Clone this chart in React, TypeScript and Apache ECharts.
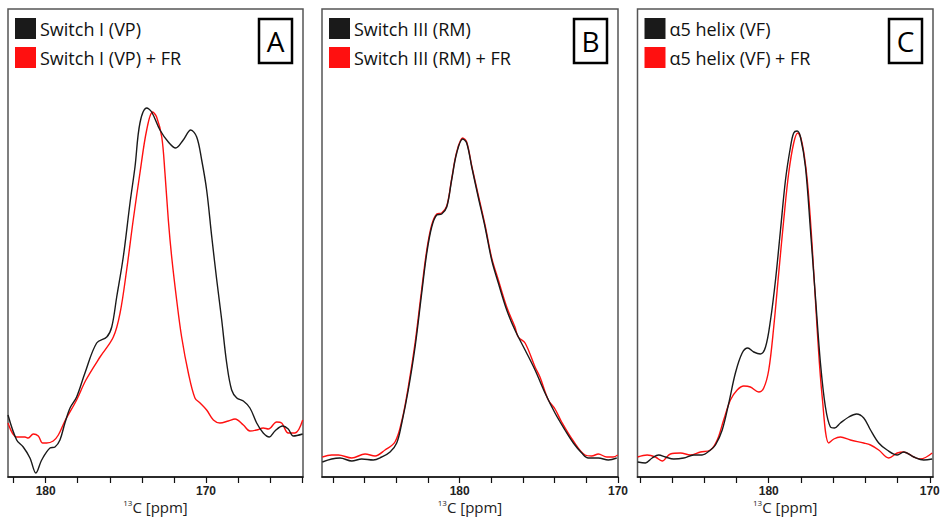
import React, { useEffect, useRef } from "react";
import * as echarts from "echarts";

// ---------- DATA (ppm, intensity in arbitrary units) ----------
const PANEL_LETTERS = ["A", "B", "C"];
const LEGEND_NAMES = [
  ["Switch I (VP)", "Switch I (VP) + FR"],
  ["Switch III (RM)", "Switch III (RM) + FR"],
  ["\u03b15 helix (VF)", "\u03b15 helix (VF) + FR"],
];
const AXIS_TITLE = "{sup|13}{n|C [ppm]}";
const AXIS_MIN = [163.95, 170, 169.8];
const AXIS_MAX = [182.35, 188.7, 188.15];
const TICKS_A = [164, 166, 168, 170, 172, 174, 176, 178, 180, 182];
const TICKS_BC = [170, 172, 174, 176, 178, 180, 182, 184, 186, 188];
const TICK_LABELS = [170, 180];

// Panel A
const A_BLACK_PPM = [182.35, 181.81, 181.4, 180.98, 180.61, 180.25, 179.73, 179.42, 179.11, 178.8, 178.48, 178.07, 177.55, 176.82, 176.19, 175.88, 175.57, 175.16, 174.74, 174.43, 174.12, 173.7, 173.39, 172.87, 172.35, 171.89, 171.42, 170.95, 170.58, 170.27, 169.96, 169.64, 169.33, 169.02, 168.71, 168.4, 168.08, 167.67, 167.26, 166.84, 166.43, 166.05, 165.7, 165.22, 164.87, 164.55, 163.97];
const A_BLACK_INT = [62, 37, 30, 19, 4, 17, 29, 30, 37, 54, 69, 80, 104, 134, 140, 150, 180, 220, 274, 310, 354, 369, 365, 347, 335, 329, 337, 347, 340, 317, 287, 240, 197, 157, 114, 87, 79, 76, 69, 54, 44, 40, 46, 51, 48, 41, 43];
const A_RED_PPM = [182.35, 181.81, 181.29, 181.09, 180.77, 180.46, 180.19, 179.94, 179.53, 179.21, 178.8, 178.07, 177.49, 176.61, 175.78, 175.36, 174.95, 174.54, 174.12, 173.7, 173.33, 173.08, 172.76, 172.56, 172.35, 172.14, 171.83, 171.52, 171.1, 170.69, 170.37, 169.96, 169.54, 169.13, 168.61, 168.19, 167.67, 167.26, 166.84, 166.43, 166.11, 165.59, 165.28, 164.87, 164.45, 163.97];
const A_RED_INT = [54, 40, 40, 39, 43, 41, 34, 34, 36, 42, 56, 77, 97, 120, 140, 164, 207, 257, 304, 347, 365, 360, 340, 304, 257, 220, 177, 140, 104, 79, 74, 67, 57, 54, 56, 58, 52, 46, 47, 49, 48, 55, 54, 44, 44, 57];

// Panel B
const B_BLACK_PPM = [188.68, 188.09, 187.56, 186.82, 186.19, 185.46, 184.93, 184.4, 183.98, 183.66, 183.25, 182.82, 182.4, 182.08, 181.77, 181.45, 181.14, 180.82, 180.51, 180.19, 179.81, 179.56, 179.24, 178.83, 178.4, 177.98, 177.56, 177.03, 176.51, 175.87, 175.24, 174.61, 173.98, 173.35, 172.82, 172.29, 171.88, 171.24, 170.61, 170.08];
const B_BLACK_INT = [15, 18, 19, 16, 18, 17, 20, 25, 34, 54, 87, 130, 184, 224, 250, 262, 263, 270, 297, 324, 338, 334, 310, 280, 250, 217, 194, 167, 147, 127, 107, 84, 64, 47, 34, 24, 19, 19, 17, 19];
const B_RED_PPM = [188.68, 188.09, 187.67, 186.82, 185.98, 185.35, 184.72, 184.09, 183.66, 183.25, 182.82, 182.4, 182.08, 181.77, 181.45, 181.14, 180.82, 180.51, 180.19, 179.81, 179.56, 179.24, 178.83, 178.4, 177.98, 177.56, 177.03, 176.51, 176.3, 175.87, 175.24, 174.93, 174.4, 173.98, 173.56, 172.82, 172.08, 171.66, 171.24, 170.71, 170.3, 170.02];
const B_RED_INT = [20, 22, 22, 19, 23, 21, 27, 35, 56, 90, 134, 188, 227, 252, 263, 264, 271, 298, 325, 339, 335, 311, 282, 252, 219, 197, 170, 150, 140, 134, 110, 100, 77, 68, 55, 36, 22, 21, 23, 20, 20, 22];

// Panel C
const C_BLACK_PPM = [188.14, 187.66, 187.24, 186.83, 186.42, 185.9, 185.28, 184.66, 184.14, 183.62, 183.31, 182.89, 182.48, 182.07, 181.65, 181.3, 180.93, 180.52, 180.2, 179.89, 179.58, 179.27, 178.96, 178.65, 178.45, 178.24, 178.03, 177.72, 177.41, 177.1, 176.79, 176.48, 176.17, 175.92, 175.55, 175.03, 174.55, 174.1, 173.68, 173.17, 172.65, 172.02, 171.61, 170.99, 170.37, 169.85];
const C_BLACK_INT = [15, 14, 19, 22, 20, 18, 19, 22, 22, 27, 32, 47, 74, 104, 124, 129, 125, 123, 130, 157, 197, 247, 297, 330, 344, 346, 340, 310, 247, 180, 114, 70, 50, 49, 54, 60, 63, 59, 47, 34, 27, 22, 25, 20, 17, 18];
const C_RED_PPM = [188.14, 187.55, 187.04, 186.62, 186.11, 185.48, 184.86, 184.24, 183.62, 183.2, 182.8, 182.38, 181.96, 181.55, 181.14, 180.62, 180.31, 180.0, 179.69, 179.38, 179.07, 178.76, 178.45, 178.2, 177.93, 177.61, 177.3, 176.99, 176.68, 176.27, 175.96, 175.55, 174.93, 174.1, 173.68, 173.17, 172.55, 172.02, 171.61, 170.99, 170.58, 169.85];
const C_RED_INT = [20, 22, 20, 16, 23, 24, 22, 25, 27, 37, 57, 77, 87, 91, 90, 85, 89, 107, 150, 204, 257, 304, 334, 344, 334, 297, 230, 147, 80, 34, 38, 40, 37, 34, 32, 27, 19, 24, 25, 20, 18, 24];

const SERIES_PPM = [
  [A_BLACK_PPM, A_RED_PPM],
  [B_BLACK_PPM, B_RED_PPM],
  [C_BLACK_PPM, C_RED_PPM],
];
const SERIES_INT = [
  [A_BLACK_INT, A_RED_INT],
  [B_BLACK_INT, B_RED_INT],
  [C_BLACK_INT, C_RED_INT],
];

// ---------- LAYOUT ----------
const GRID_LEFT = [8, 322, 637.5];
const GRID_WIDTH = [295, 296, 295.5];
const GRID_TOP = 9;
const GRID_HEIGHT = 468;
const COLORS = ["#1a1a1a", "#ff1010"];
const FONT = "'Open Sans', 'Noto Sans', sans-serif";

export default function App() {
  const ref = useRef<HTMLDivElement>(null);
  useEffect(() => {
    document.body.style.margin = "0";
    if (!ref.current) return;
    const chart = echarts.init(ref.current, null, { renderer: "svg" });

    const grid: any[] = [];
    const xAxis: any[] = [];
    const yAxis: any[] = [];
    const legend: any[] = [];
    const series: any[] = [];
    const graphic: any[] = [];

    for (let p = 0; p < 3; p++) {
      grid.push({
        left: GRID_LEFT[p],
        top: GRID_TOP,
        width: GRID_WIDTH[p],
        height: GRID_HEIGHT,
        show: true,
        borderColor: "#555",
        borderWidth: 1.5,
        backgroundColor: "#fff",
        containLabel: false,
        outerBoundsMode: "none",
      });
      xAxis.push({
        type: "value",
        gridIndex: p,
        inverse: true,
        min: AXIS_MIN[p],
        max: AXIS_MAX[p],
        splitLine: { show: false },
        axisLine: { show: true, lineStyle: { color: "#111", width: 1.5 } },
        axisTick: {
          show: true,
          length: 6,
          lineStyle: { color: "#111", width: 1.2 },
          customValues: p === 0 ? TICKS_A : TICKS_BC,
        },
        axisLabel: {
          show: true,
          customValues: TICK_LABELS,
          fontSize: 12,
          fontWeight: "bold",
          color: "#222",
          fontFamily: "'Liberation Sans', Arial, sans-serif",
          margin: 8,
          showMinLabel: true,
          showMaxLabel: true,
        },
      });
      yAxis.push({
        type: "value",
        gridIndex: p,
        min: 0,
        max: GRID_HEIGHT,
        show: false,
        splitLine: { show: false },
      });
      legend.push({
        data: LEGEND_NAMES[p],
        orient: "vertical",
        left: GRID_LEFT[p] + 7,
        top: 18,
        icon: "rect",
        itemWidth: 21,
        itemHeight: 21,
        itemGap: 8,
        padding: 0,
        textStyle: { fontSize: 18, fontFamily: FONT, color: "#111", padding: [0, 0, 0, -1] },
        selectedMode: false,
      });
      for (let s = 0; s < 2; s++) {
        const ppm = SERIES_PPM[p][s];
        const ints = SERIES_INT[p][s];
        series.push({
          type: "line",
          name: LEGEND_NAMES[p][s],
          xAxisIndex: p,
          yAxisIndex: p,
          data: ppm.map((v, i) => [v, ints[i]]),
          showSymbol: false,
          smooth: 0.35,
          z: s === 0 ? 3 : 2,
          lineStyle: { color: COLORS[s], width: 1.4 },
          itemStyle: { color: COLORS[s] },
        });
      }
      const boxRight = GRID_LEFT[p] + GRID_WIDTH[p] - 10;
      graphic.push({
        type: "rect",
        shape: { x: boxRight - 34, y: 19, width: 33, height: 44 },
        style: { fill: "#fff", stroke: "#000", lineWidth: 2.5 },
        z: 10,
      });
      graphic.push({
        type: "text",
        x: boxRight - 17.5,
        y: 41,
        style: {
          text: PANEL_LETTERS[p],
          fontSize: 28,
          fontFamily: FONT,
          fill: "#000",
          align: "center",
          verticalAlign: "middle",
        },
        z: 11,
      });
      graphic.push({
        type: "text",
        x: GRID_LEFT[p] + GRID_WIDTH[p] / 2,
        y: 507,
        style: {
          text: AXIS_TITLE,
          align: "center",
          verticalAlign: "middle",
          rich: {
            sup: { fontSize: 8, fontFamily: FONT, fill: "#222", verticalAlign: "top", lineHeight: 18 },
            n: { fontSize: 15, fontFamily: FONT, fill: "#222", lineHeight: 18 },
          },
        },
        z: 11,
      });
    }

    chart.setOption({
      animation: false,
      backgroundColor: "#fff",
      grid,
      xAxis,
      yAxis,
      legend,
      series,
      graphic,
    });
    return () => chart.dispose();
  }, []);
  return <div ref={ref} style={{ width: 941, height: 517 }} />;
}
